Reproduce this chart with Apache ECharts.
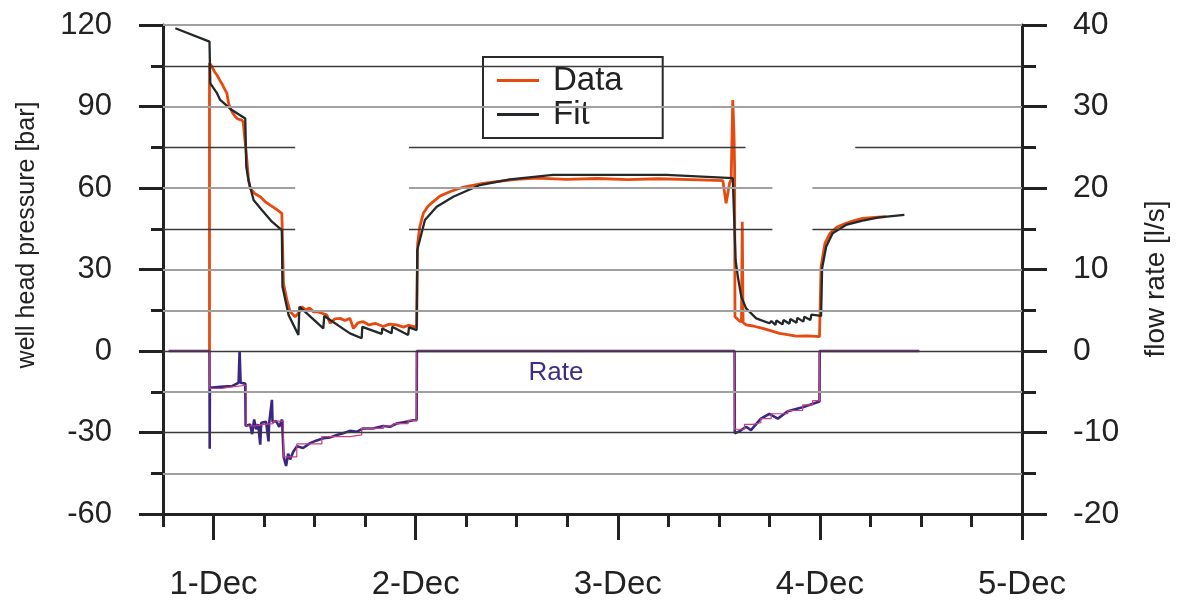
<!DOCTYPE html>
<html><head><meta charset="utf-8">
<script src="https://cdn.jsdelivr.net/npm/echarts@6/dist/echarts.min.js"></script>
<style>html,body{margin:0;padding:0;background:#fff}#c{width:1181px;height:606px}</style>
</head><body><div id="c"></div>
<script>
// ---- data (x in days after 1-Dec 00:00) ----
const dayTicks = [0, 1, 2, 3, 4];
const dayLabels = ['1-Dec', '2-Dec', '3-Dec', '4-Dec', '5-Dec'];

const fitT = [-0.189,-0.020,-0.016,0.017,0.033,0.091,0.157,0.162,0.173,0.198,0.239,0.289,0.338,0.341,0.371,0.420,0.425,0.543,0.548,0.675,0.733,0.736,0.832,0.835,0.881,0.884,0.963,0.967,1.005,1.008,1.046,1.104,1.186,1.318,1.466,1.680,2.240,2.569,2.578,2.583,2.594,2.611,2.635,2.685,2.750,2.760,2.780,2.785,2.815,2.820,2.849,2.854,2.884,2.889,2.918,2.923,2.953,2.958,3.006,3.011,3.031,3.063,3.129,3.211,3.294,3.418];
const fitP = [118.8,113.9,98.5,94.9,92.4,88.7,85.6,67.8,62.9,55.6,51.9,47.6,44.5,23.7,13.3,5.9,16.3,8.3,12.9,6.5,4.7,8.9,6.3,8.3,6.5,8.9,5.9,8.7,7.7,37.2,48.2,53.1,56.8,61.1,63.2,64.8,64.8,63.6,63.5,33.5,27.4,20,15.7,12,10.2,11.0,9.6,11.2,9.8,11.4,10.0,11.8,10.4,12.2,10.8,12.6,11.4,13.4,12.9,30.4,38.4,43.3,46.4,48,49.2,50.1];

const dataT = [-0.020,-0.020,-0.008,0.005,0.017,0.030,0.041,0.055,0.066,0.075,0.083,0.095,0.107,0.120,0.140,0.147,0.165,0.173,0.181,0.205,0.231,0.255,0.280,0.310,0.338,0.346,0.363,0.379,0.404,0.420,0.437,0.455,0.475,0.495,0.511,0.540,0.560,0.577,0.600,0.626,0.650,0.675,0.692,0.715,0.741,0.770,0.800,0.840,0.870,0.906,0.940,0.965,0.988,1.005,1.010,1.020,1.038,1.060,1.087,1.120,1.169,1.230,1.334,1.420,1.499,1.600,1.746,1.900,2.050,2.200,2.405,2.520,2.536,2.553,2.561,2.569,2.575,2.578,2.580,2.602,2.612,2.616,2.620,2.635,2.670,2.717,2.760,2.800,2.840,2.882,2.940,2.998,3.006,3.025,3.050,3.085,3.129,3.170,3.211,3.270,3.327];
const dataP = [0,106,104.7,102.8,101.6,99.8,98.5,96.4,94.9,91.0,89.3,87.6,86.3,85.4,85.0,84.2,70.3,63,59.9,57.9,56.8,55.0,53.7,52.2,50.7,24.9,18.8,14.5,12.6,13.9,16.3,15.2,15.8,14.4,14.5,13.8,13.3,10.2,11.8,12,11.2,12,8.3,10.4,10.8,9.6,10.2,9,9.9,9.6,8.8,9.5,9,9,39.6,45.5,50.7,53.2,55,57.0,58.6,60.2,61.7,62.5,63.2,63.6,63.2,63.5,63.1,63.4,63,62.7,54.4,61.7,63,92.4,80,67.8,12.6,11,10.8,47.6,10.5,9.6,9.2,8.3,7.4,6.5,6.0,5.5,5.6,5.3,31.0,39.6,43.3,45.6,47,48.0,48.8,49.2,49.5];

const rateT = [-0.222,-0.020,-0.019,-0.018,0.033,0.091,0.124,0.129,0.134,0.157,0.159,0.181,0.191,0.201,0.211,0.221,0.231,0.236,0.260,0.272,0.275,0.289,0.292,0.310,0.325,0.339,0.344,0.347,0.359,0.369,0.379,0.394,0.412,0.443,0.478,0.507,0.544,0.577,0.610,0.641,0.675,0.710,0.741,0.789,0.840,0.873,0.906,0.947,0.988,1.005,1.006,2.578,2.579,2.605,2.635,2.659,2.708,2.750,2.792,2.841,2.915,2.998,2.999,3.492];
const rateQ = [0,0,-12,-4.5,-4.4,-4.3,-3.9,0,-3.9,-4.0,-9.2,-9.0,-10.2,-8.4,-9.6,-9.0,-11.5,-8.8,-8.7,-11.1,-8.9,-6.0,-8.7,-8.6,-9.3,-8.4,-8.5,-13,-14.1,-12.6,-13.3,-12.4,-11.7,-11.9,-11.3,-11.0,-10.7,-10.6,-10.3,-10.1,-9.8,-9.9,-9.5,-9.5,-9.2,-9.3,-8.9,-8.7,-8.5,-8.5,0,0,-10.1,-9.8,-9.3,-9.7,-8.3,-7.7,-8.3,-7.4,-6.9,-6.2,0,0];

// step-wise rate model: level holds from each time to the next
const rateFitT = [-0.222,-0.019,0.041,0.091,0.162,0.206,0.247,0.296,0.346,0.412,0.536,0.675,0.733,0.840,0.889,0.963,1.005,2.578,2.627,2.668,2.708,2.759,2.841,2.915,2.964,2.998,3.492];
const rateFitQ = [0,-4.6,-4.4,-4.2,-9.2,-9.0,-8.9,-8.6,-13.0,-11.4,-10.5,-10.3,-9.5,-9.2,-8.9,-8.5,0,-9.6,-9.0,-8.8,-8.3,-7.7,-7.3,-6.6,-6.1,0,0];

const pressureTicks = { min: -60, max: 120, step: 30 };
const flowTicks = { min: -20, max: 40, step: 10 };

// ---- layout / style ----
const X_MIN = -0.25, X_MAX = 4;
const FONT = 'Liberation Sans, Arial, sans-serif';
const INK = '#222';
const gridLevels = [120,105,90,75,60,45,30,15,0,-15,-30,-45];
const gridDark = [105,75,45,0,-30];
const gridGaps = {75: [[0.404,0.967],[2.632,3.175]], 60: [[0.404,0.967],[2.765,2.963]], 45: [[0.404,0.967],[2.765,2.963]]};

const zip = (a, b) => a.map((v, i) => [v, b[i]]);

function segments(level) {
  let parts = [[X_MIN, X_MAX]];
  (gridGaps[level] || []).forEach(g => {
    parts = parts.flatMap(([a, b]) => (g[1] <= a || g[0] >= b) ? [[a, b]] :
      [[a, g[0]], [g[1], b]].filter(p => p[1] > p[0]));
  });
  return parts;
}
const gridLineData = [];
gridLevels.forEach(lv => {
  const dark = gridDark.includes(lv);
  segments(lv).forEach(([a, b]) => {
    gridLineData.push([
      { coord: [a, lv], lineStyle: { color: dark ? '#3a3a3a' : '#a0a0a0', width: dark ? 1.3 : 2.2, type: 'solid' } },
      { coord: [b, lv] }
    ]);
  });
});

const chart = echarts.init(document.getElementById('c'), null, { renderer: 'canvas' });
chart.setOption({
  animation: false,
  backgroundColor: '#fff',
  grid: { left: 163, right: 159, top: 25, bottom: 92, containLabel: false },
  legend: {
    data: ['Data', 'Fit'],
    orient: 'vertical',
    left: 483, top: 57,
    backgroundColor: '#fff',
    borderColor: '#2a2a2a', borderWidth: 2,
    padding: [7, 40, 7, 14],
    itemGap: 1,
    itemWidth: 42, itemHeight: 3,
    icon: 'rect',
    textStyle: { fontSize: 33, color: INK, fontFamily: FONT, padding: [0, 0, 0, 9] },
    selectedMode: false
  },
  xAxis: [{
    type: 'value', min: X_MIN, max: X_MAX, interval: 0.25, position: 'bottom',
    axisLine: { show: true, onZero: false, lineStyle: { color: INK, width: 3 } },
    axisTick: { show: true, length: 13, lineStyle: { color: INK, width: 3 } },
    axisLabel: {
      fontSize: 33, color: INK, fontFamily: FONT, margin: 54,
      formatter: v => { const i = dayTicks.indexOf(Math.round(v * 1000) / 1000); return i >= 0 ? dayLabels[i] : ''; }
    },
    splitLine: { show: false }
  }, {
    type: 'value', min: X_MIN, max: X_MAX, position: 'bottom',
    axisLine: { show: false, onZero: false },
    axisTick: { show: true, customValues: dayTicks, length: 26, lineStyle: { color: INK, width: 3 } },
    axisLabel: { show: false },
    splitLine: { show: false }
  }],
  yAxis: [{
    type: 'value', min: pressureTicks.min, max: pressureTicks.max, interval: pressureTicks.step, position: 'left',
    axisLine: { show: true, onZero: false, lineStyle: { color: INK, width: 3 } },
    axisTick: { show: true, length: 24, lineStyle: { color: INK, width: 3 } },
    minorTick: { show: true, splitNumber: 2, length: 12, lineStyle: { color: INK, width: 3 } },
    axisLabel: { fontSize: 31, color: INK, fontFamily: FONT, margin: 51 },
    splitLine: { show: false }, minorSplitLine: { show: false }
  }, {
    type: 'value', min: flowTicks.min, max: flowTicks.max, interval: flowTicks.step, position: 'right',
    axisLine: { show: true, onZero: false, lineStyle: { color: INK, width: 3 } },
    axisTick: { show: true, length: 25, lineStyle: { color: INK, width: 3 } },
    minorTick: { show: true, splitNumber: 2, length: 14, lineStyle: { color: INK, width: 3 } },
    axisLabel: { fontSize: 32, color: INK, fontFamily: FONT, margin: 51 },
    splitLine: { show: false }, minorSplitLine: { show: false }
  }],
  series: [{
    name: 'grid', type: 'line', xAxisIndex: 0, yAxisIndex: 0, z: 1, silent: true,
    data: [[X_MIN, pressureTicks.min]], symbol: 'none', lineStyle: { opacity: 0 },
    markLine: { symbol: 'none', silent: true, animation: false, label: { show: false },
      lineStyle: { color: '#a0a0a0', type: 'solid' },
      emphasis: { disabled: true }, data: gridLineData }
  }, {
    name: 'Data', type: 'line', xAxisIndex: 0, yAxisIndex: 0, z: 3,
    data: zip(dataT, dataP), showSymbol: false, symbol: 'none',
    color: '#e64a0e', lineStyle: { color: '#e64a0e', width: 2.8 }
  }, {
    name: 'Fit', type: 'line', xAxisIndex: 0, yAxisIndex: 0, z: 4,
    data: zip(fitT, fitP), showSymbol: false, symbol: 'none',
    color: '#23282a', lineStyle: { color: '#23282a', width: 2.3 }
  }, {
    name: 'Rate', type: 'line', xAxisIndex: 0, yAxisIndex: 1, z: 3,
    data: zip(rateT, rateQ), showSymbol: false, symbol: 'none',
    lineStyle: { color: '#3b2783', width: 2.6 }
  }, {
    name: 'Rate model', type: 'line', xAxisIndex: 0, yAxisIndex: 1, z: 4, step: 'end',
    data: zip(rateFitT, rateFitQ), showSymbol: false, symbol: 'none',
    lineStyle: { color: '#c8407f', width: 1.2 }
  }],
  graphic: [{
    type: 'text', x: 27, y: 235, rotation: Math.PI / 2,
    style: { text: 'well head pressure [bar]', fontSize: 25, fontFamily: FONT, fill: INK, align: 'center', verticalAlign: 'middle' }
  }, {
    type: 'text', x: 1156, y: 279, rotation: Math.PI / 2,
    style: { text: 'flow rate [l/s]', fontSize: 28, fontFamily: FONT, fill: INK, align: 'center', verticalAlign: 'middle' }
  }, {
    type: 'text', x: 556, y: 373, z: 10,
    style: { text: 'Rate', fontSize: 26, fontFamily: FONT, fill: '#3d2d85', align: 'center', verticalAlign: 'middle' }
  }]
});
</script></body></html>
